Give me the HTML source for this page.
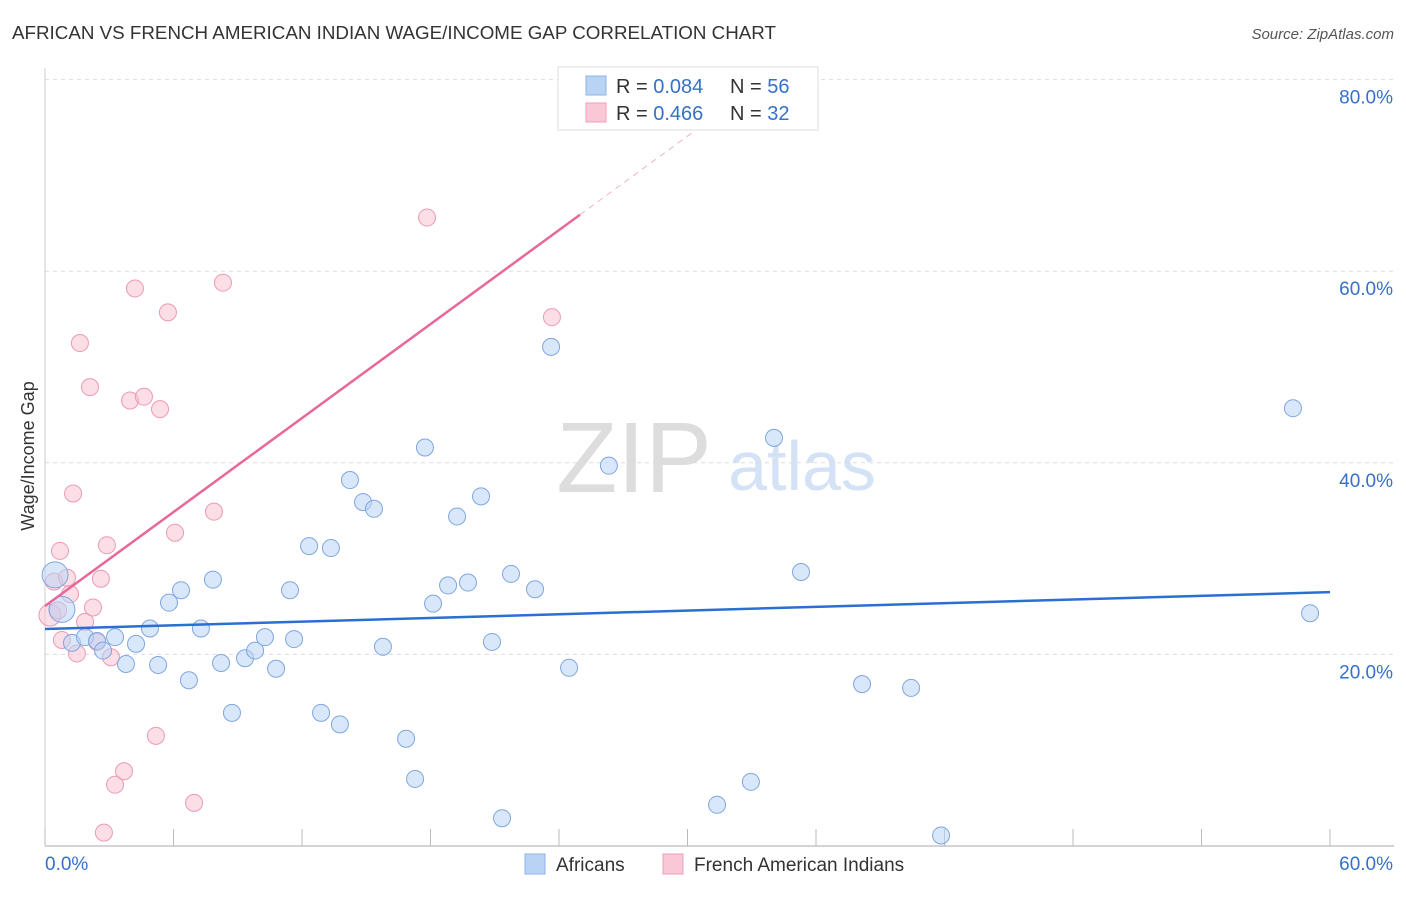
<!DOCTYPE html>
<html><head><meta charset="utf-8"><style>
body{margin:0;background:#fff;font-family:"Liberation Sans",sans-serif}
svg text{font-family:"Liberation Sans",sans-serif}
</style></head><body>
<svg id="c" width="1406" height="892" xmlns="http://www.w3.org/2000/svg">
<text x="12" y="39" font-size="18" fill="#333" textLength="764" lengthAdjust="spacingAndGlyphs">AFRICAN VS FRENCH AMERICAN INDIAN WAGE/INCOME GAP CORRELATION CHART</text>
<text x="1394" y="39" font-size="15" fill="#555" font-style="italic" text-anchor="end">Source: ZipAtlas.com</text>
<text x="634" y="492" font-size="100" fill="#ddd" text-anchor="middle" font-family="Liberation Serif">ZIP</text>
<text x="802" y="490" font-size="70" fill="#d3e2f5" text-anchor="middle">atlas</text>
<g id="grid"></g>
<g id="marks"></g>
<text transform="translate(34,456) rotate(-90)" font-size="18" fill="#333" text-anchor="middle">Wage/Income Gap</text>
<g>
<rect x="558" y="67" width="260" height="63" fill="#fff" stroke="#ddd"/>
<rect x="586" y="76" width="20" height="19" fill="#b9d3f5" stroke="#8fb3e6"/>
<rect x="586" y="103" width="20" height="19" fill="#f9c7d6" stroke="#ee9fb8"/>
<text x="616" y="93" font-size="20" fill="#333">R = <tspan fill="#3571c8">0.084</tspan></text>
<text x="730" y="93" font-size="20" fill="#333">N = <tspan fill="#3571c8">56</tspan></text>
<text x="616" y="120" font-size="20" fill="#333">R = <tspan fill="#3571c8"> 0.466</tspan></text>
<text x="730" y="120" font-size="20" fill="#333">N = <tspan fill="#3571c8">32</tspan></text>
</g>
<g>
<rect x="525" y="854" width="20" height="20" fill="#b9d3f5" stroke="#8fb3e6"/>
<text x="556" y="871" font-size="19" fill="#333">Africans</text>
<rect x="663" y="854" width="20" height="20" fill="#f9c7d6" stroke="#ee9fb8"/>
<text x="694" y="871" font-size="19" fill="#333">French American Indians</text>
</g>
</svg>
<script>
const blueX=[0.47,0.79,1.26,1.87,2.43,2.71,3.27,3.78,4.25,4.90,5.28,5.79,6.35,6.72,7.28,7.84,8.22,8.73,9.34,9.81,10.27,10.79,11.44,11.63,12.33,12.89,13.35,13.77,14.24,14.85,15.36,15.78,16.86,17.28,17.74,18.12,18.82,19.24,19.75,20.36,20.87,21.34,21.76,22.88,23.63,24.47,26.33,31.38,32.96,34.04,35.30,38.15,40.44,41.84,58.27,59.07];
const blueY=[28.3,24.7,21.2,21.8,21.4,20.4,21.8,19.0,21.1,22.7,18.9,25.4,26.7,17.3,22.7,27.8,19.1,13.9,19.6,20.4,21.8,18.5,26.7,21.6,31.3,13.9,31.1,12.7,38.2,35.9,35.2,20.8,11.2,7.0,41.6,25.3,27.2,34.4,27.5,36.5,21.3,2.9,28.4,26.8,52.1,18.6,39.7,4.3,6.7,42.6,28.6,16.9,16.5,1.1,45.7,24.3];
const pinkX=[0.23,0.42,0.70,0.79,1.03,1.17,1.31,1.49,1.63,1.87,2.10,2.24,2.43,2.61,2.89,3.08,3.27,3.69,3.97,4.20,4.62,5.18,5.37,5.74,6.07,6.96,7.89,8.31,2.75,17.84,23.67,0.61];
const pinkY=[24.1,27.6,30.8,21.5,28.0,26.3,36.8,20.1,52.5,23.4,47.9,24.9,21.3,27.9,31.4,19.7,6.4,7.8,46.5,58.2,46.9,11.5,45.6,55.7,32.7,4.5,34.9,58.8,1.4,65.6,55.2,24.6];
const blueTrend=[22.65,26.5];
const pinkTrend=[25.05,1.635];
const yTicks=[20,40,60,80];
const xTickLabels=["0.0%","60.0%"];
const X0=45,X1=1330,Y0=846,PPY=9.58;
const sx=v=>X0+(X1-X0)*v/60, sy=v=>Y0-v*PPY;
const NS="http://www.w3.org/2000/svg";
function mk(t,a,p){const e=document.createElementNS(NS,t);for(const k in a)e.setAttribute(k,a[k]);p.appendChild(e);return e;}
const g=document.getElementById('grid'), m=document.getElementById('marks');
yTicks.forEach(t=>{
 const l=mk('line',{x1:X0,x2:1394,y1:sy(t),y2:sy(t),stroke:'#ddd','stroke-dasharray':'4,4'},g);
 
 
 const tx=mk('text',{x:1393,y:sy(t)+24,'font-size':19,fill:'#3571c8','text-anchor':'end'},g);
 tx.textContent=t.toFixed(1)+'%';
 
 
});
const ax=mk('line',{x1:X0,x2:1394,y1:Y0,y2:Y0,stroke:'#aaa'},g);


const ay=mk('line',{x1:X0,x2:X0,y1:68,y2:Y0,stroke:'#ccc'},g);


for(let i=0;i<=10;i++){const t=mk('line',{x1:sx(i*6),x2:sx(i*6),y1:Y0,y2:Y0-17,stroke:'#bbb'},g);
 
 }
[[0,'start',45],[60,'end',1393]].forEach((d,i)=>{const t=mk('text',{x:d[2],y:870,'font-size':19,fill:'#3571c8','text-anchor':d[1]},g);t.textContent=xTickLabels[i];
 
 });
pinkX.forEach((x,i)=>{const big=i==0;const c=mk('circle',{cx:sx(x),cy:sy(pinkY[i]),r:big?11:8.5,fill:'rgba(249,190,208,0.5)',stroke:'#ec9ab4','stroke-width':1},m);
 
 });
blueX.forEach((x,i)=>{const c=mk('circle',{cx:sx(x),cy:sy(blueY[i]),r:i<2?13:8.5,fill:'rgba(185,211,245,0.55)',stroke:'#7fa6dd','stroke-width':1},m);
 
 });
const bl=mk('line',{x1:sx(0),y1:sy(blueTrend[0]),x2:sx(60),y2:sy(blueTrend[1]),stroke:'#2a6fd1','stroke-width':2.5},m);


const pl=mk('line',{x1:sx(0),y1:sy(pinkTrend[0]),x2:sx(24.98),y2:sy(pinkTrend[0]+pinkTrend[1]*24.98),stroke:'#e8689a','stroke-width':2.5},m);


const pd=mk('line',{x1:sx(24.98),y1:sy(pinkTrend[0]+pinkTrend[1]*24.98),x2:sx(32),y2:sy(pinkTrend[0]+pinkTrend[1]*32),stroke:'#f0b0c6','stroke-width':1,'stroke-dasharray':'6,5'},m);


</script>
</body></html>
